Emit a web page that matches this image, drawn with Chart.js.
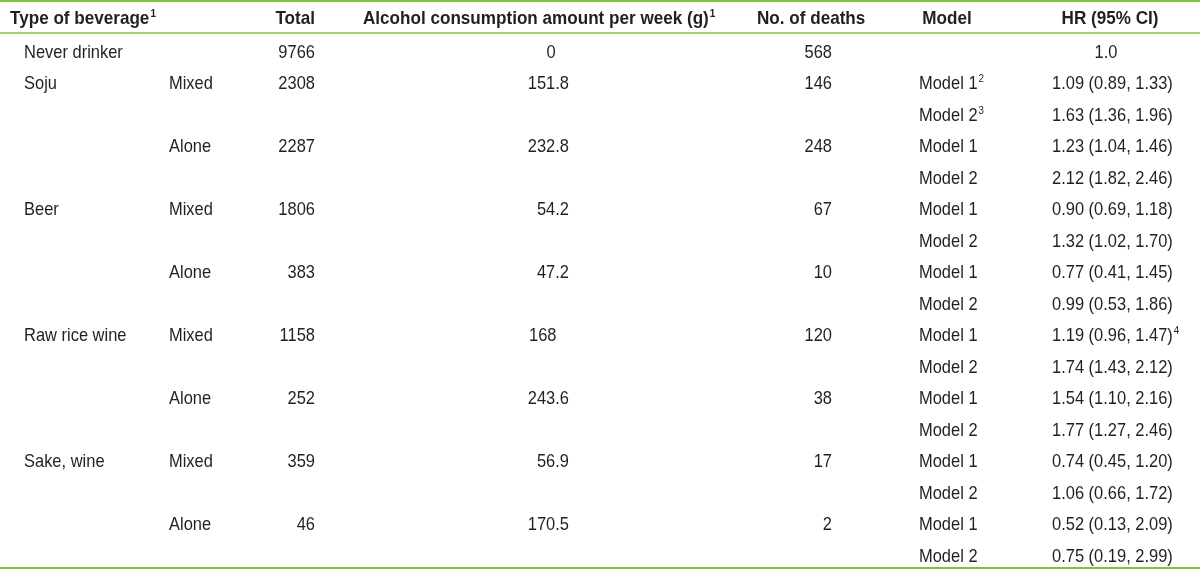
<!DOCTYPE html>
<html>
<head>
<meta charset="utf-8">
<script src="https://cdn.jsdelivr.net/npm/chart.js@4"></script>
<style>
  body { margin: 0; background: #fff; }
  #wrap { width: 1200px; height: 571px; position: relative; }
</style>
</head>
<body>
<div id="wrap"><canvas id="myChart"></canvas></div>
<script>
// table content
var beverageTypes = ['Never drinker', 'Soju', 'Beer', 'Raw rice wine', 'Sake, wine'];
var drinkPatterns = ['Mixed', 'Alone'];
var totals = [9766, 2308, 2287, 1806, 383, 1158, 252, 359, 46];
var alcoholGrams = ['0', '151.8', '232.8', '54.2', '47.2', '168', '243.6', '56.9', '170.5'];
var deaths = [568, 146, 248, 67, 10, 120, 38, 17, 2];
var modelNames = ['Model 1', 'Model 2'];
var hrModel1 = [1.09, 1.23, 0.90, 0.77, 1.19, 1.54, 0.74, 0.52];
var loModel1 = [0.89, 1.04, 0.69, 0.41, 0.96, 1.10, 0.45, 0.13];
var hiModel1 = [1.33, 1.46, 1.18, 1.45, 1.47, 2.16, 1.20, 2.09];
var hrModel2 = [1.63, 2.12, 1.32, 0.99, 1.74, 1.77, 1.06, 0.75];
var loModel2 = [1.36, 1.82, 1.02, 0.53, 1.43, 1.27, 0.66, 0.19];
var hiModel2 = [1.96, 2.46, 1.70, 1.86, 2.12, 2.46, 1.72, 2.99];
var refHR = '1.0';
var headers = ['Type of beverage', 'Total', 'Alcohol consumption amount per week (g)', 'No. of deaths', 'Model', 'HR (95% CI)'];

var ink = '#231f20';
var green = '#7dc242';
var family = '"Liberation Sans", Arial, sans-serif';
var bodyFont = '18.5px ' + family;
var boldFont = 'bold 19px ' + family;
var supFont = '11px ' + family;
var supBold = 'bold 11px ' + family;
// the source face is a condensed one, so squeeze the glyphs horizontally
var bodySqueeze = 0.89;
var boldSqueeze = 0.9;

function fmt(v) { return v.toFixed(2); }

// build the cell list (row index = y value, column anchor = x value)
var cells = [];
function cell(row, x, align, text, sup, font) {
    cells.push({ row: row, x: x, align: align, text: String(text), sup: sup || '', font: font || bodyFont });
}

cell(-1.08, 10, 'left', headers[0], '1', boldFont);
cell(-1.08, 315, 'right', headers[1], '', boldFont);
cell(-1.08, 363, 'left', headers[2], '1', boldFont);
cell(-1.08, 757, 'left', headers[3], '', boldFont);
cell(-1.08, 947, 'center', headers[4], '', boldFont);
cell(-1.08, 1110, 'center', headers[5], '', boldFont);

cell(0, 24, 'left', beverageTypes[0]);
cell(0, 315, 'right', totals[0]);
cell(0, 551, 'center', alcoholGrams[0]);
cell(0, 832, 'right', deaths[0]);
cell(0, 1106, 'center', refHR);

for (var g = 0; g < 8; g++) {
    var row = 1 + g * 2;
    if (g % 2 === 0) cell(row, 24, 'left', beverageTypes[1 + g / 2]);
    cell(row, 169, 'left', drinkPatterns[g % 2]);
    cell(row, 315, 'right', totals[g + 1]);
    if (alcoholGrams[g + 1] === '168') cell(row, 529, 'left', alcoholGrams[g + 1]);
    else cell(row, 569, 'right', alcoholGrams[g + 1]);
    cell(row, 832, 'right', deaths[g + 1]);
    cell(row, 919, 'left', modelNames[0], g === 0 ? '2' : '');
    cell(row + 1, 919, 'left', modelNames[1], g === 0 ? '3' : '');
    cell(row, 1052, 'left', fmt(hrModel1[g]) + ' (' + fmt(loModel1[g]) + ', ' + fmt(hiModel1[g]) + ')', g === 4 ? '4' : '');
    cell(row + 1, 1052, 'left', fmt(hrModel2[g]) + ' (' + fmt(loModel2[g]) + ', ' + fmt(hiModel2[g]) + ')');
}

// rule lines, in row units
var rules = [{ row: -1.587, w: 2 }, { row: -0.571, w: 1.5 }, { row: 16.41, w: 2 }];

var tablePlugin = {
    id: 'tableText',
    afterDatasetsDraw: function(chart) {
        var ctx = chart.ctx, xs = chart.scales.x, ys = chart.scales.y;
        ctx.save();
        rules.forEach(function(r) {
            var y = ys.getPixelForValue(r.row);
            ctx.strokeStyle = green;
            ctx.lineWidth = r.w;
            ctx.beginPath();
            ctx.moveTo(xs.getPixelForValue(0), y);
            ctx.lineTo(xs.getPixelForValue(1200), y);
            ctx.stroke();
        });
        ctx.fillStyle = ink;
        ctx.textBaseline = 'alphabetic';
        ctx.textAlign = 'left';
        cells.forEach(function(c) {
            var bold = c.font === boldFont;
            var k = bold ? boldSqueeze : bodySqueeze;
            ctx.font = c.font;
            var w = ctx.measureText(c.text).width * k;
            ctx.font = bold ? supBold : supFont;
            var sw = c.sup ? ctx.measureText(c.sup).width * k + 1 : 0;
            var full = w + sw;
            var x = xs.getPixelForValue(c.x);
            if (c.align === 'right') x -= full;
            else if (c.align === 'center') x -= full / 2;
            var y = ys.getPixelForValue(c.row) + 6.7;
            ctx.save();
            ctx.translate(x, y);
            ctx.scale(k, 1);
            ctx.font = c.font;
            ctx.fillText(c.text, 0, 0);
            if (c.sup) {
                ctx.font = bold ? supBold : supFont;
                ctx.fillText(c.sup, (w + 1) / k, -7);
            }
            ctx.restore();
        });
        ctx.restore();
    }
};

var ctx = document.getElementById('myChart').getContext('2d');
var chart = new Chart(ctx, {
    type: 'scatter',
    data: {
        datasets: [{
            data: cells.map(function(c) { return { x: c.x, y: c.row }; }),
            pointRadius: 0,
            pointHoverRadius: 0
        }]
    },
    options: {
        responsive: true,
        maintainAspectRatio: false,
        animation: false,
        layout: { padding: 0 },
        plugins: { legend: { display: false }, tooltip: { enabled: false } },
        scales: {
            x: { type: 'linear', min: 0, max: 1200, display: false },
            y: { type: 'linear', min: -1.619, max: 16.508, reverse: true, display: false }
        }
    },
    plugins: [tablePlugin]
});
</script>
</body>
</html>
